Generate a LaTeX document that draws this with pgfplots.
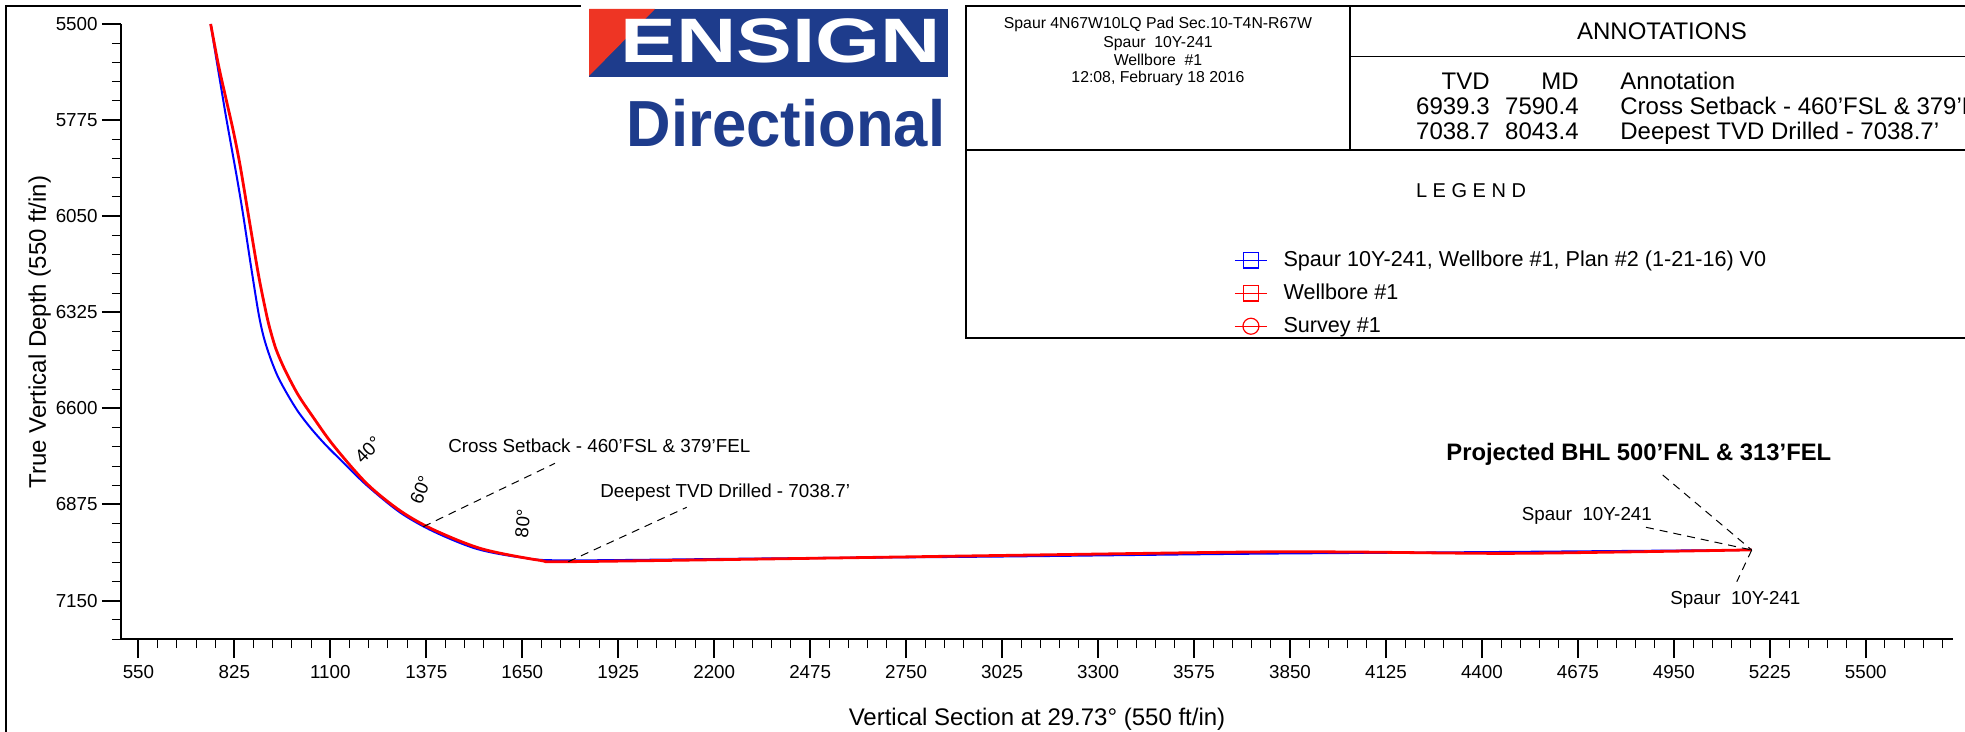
\documentclass[border=0pt]{standalone}
\usepackage{fontspec}
\setmainfont{Liberation Sans}
\usepackage{graphicx}
\usepackage{pgfplots}
\pgfplotsset{compat=1.18}
\usepackage{pgfplotstable}

\definecolor{ensblue}{RGB}{30,60,140}
\definecolor{ensred}{RGB}{238,53,36}

% plan #2 (blue) and wellbore #1 (red): vertical section vs TVD
\pgfplotstableread{
vs tvd
757 5500
770 5580
784 5664
800 5760
817 5855
834 5950
850 6046
872 6190
894 6327
909 6396
927 6453
949 6508
977 6560
1008 6610
1045 6658
1085 6703
1130 6748
1204 6820
1300 6898
1395 6952
1519 7002
1650 7027
1777 7035
2400 7029
3019 7024
3736 7016
4452 7011
5173 7005
}\plantable

\pgfplotstableread{
vs tvd
757 5500
779 5616
800 5710
822 5807
841 5903
865 6046
894 6218
916 6327
927 6373
944 6430
967 6484
994 6537
1013 6570
1047 6620
1108 6705
1204 6815
1300 6893
1395 6947
1534 7002
1701 7035
1782 7038.7
2417 7030
3019 7021
3736 7011
4022 7011
4452 7015
4800 7011
5173 7005
}\welltable

% pixel coordinates of the reference, origin at the axis corner
\tikzset{px/.style={x=0.5pt,y=-0.5pt,shift={(-121,-639)}}}
\newcommand{\fs}[1]{\fontsize{#1}{#1}\selectfont}

\begin{document}
\begin{tikzpicture}
\path[px, use as bounding box] (0,0) rectangle (1965,732);

\begin{axis}[
  at={(0,0)}, anchor=south west,
  scale only axis, width=916pt, height=307.5pt,
  xmin=500, xmax=5750, ymin=5500, ymax=7260,
  y dir=reverse,
  axis lines=left,
  axis line style={-, line width=1pt, black},
  xtick={550,825,...,5500},
  ytick={5500,5775,...,7150},
  minor xtick={550,605,...,5720},
  minor ytick={5500,5555,...,7260},
  tick align=outside,
  major tick length=9.5pt, minor tick length=4.5pt,
  every major tick/.append style={line width=1pt, black},
  every minor tick/.append style={line width=0.5pt, black},
  /pgf/number format/assume math mode=true,
  /pgf/number format/1000 sep={},
  tick label style={font=\fs{9.4}},
  xticklabel style={inner sep=0pt, yshift=-3.5pt},
  yticklabel style={inner sep=0pt, xshift=-2pt},
  clip=false,
  legend cell align=left,
  legend image code/.code={
    \draw[mark repeat=2,mark phase=2,#1] plot coordinates {(0pt,0pt) (8pt,0pt) (16pt,0pt)};},
  legend style={at={(axis description cs:0.6075,0.5623)}, anchor=west,
    draw=none, fill=none, inner sep=0pt, font=\fs{10.8},
    row sep=7.2pt, nodes={inner sep=0pt},
    /tikz/every odd column/.style={column sep=8pt}},
]
\addplot[blue, line width=1pt, smooth, forget plot] table[x=vs, y=tvd] {\plantable};
\addplot[red, line width=1.4pt, smooth, forget plot] table[x=vs, y=tvd] {\welltable};

\addlegendimage{blue, line width=0.6pt, mark=square, mark size=3.8pt, mark options={solid}}
\addlegendentry{Spaur 10Y-241, Wellbore \#1, Plan \#2 (1-21-16) V0}
\addlegendimage{red, line width=0.6pt, mark=square, mark size=3.8pt, mark options={solid}}
\addlegendentry{Wellbore \#1}
\addlegendimage{red, line width=0.6pt, mark=o, mark size=4pt, mark options={solid}}
\addlegendentry{Survey \#1}
\end{axis}

\begin{scope}[px]
  % frame
  \draw[line width=1pt] (6,732) -- (6,6) -- (581,6);
  % header box
  \draw[line width=1pt] (1965,6) -- (966,6) -- (966,338) -- (1965,338);
  \draw[line width=1pt] (966,150) -- (1965,150);
  \draw[line width=1pt] (1350,6) -- (1350,150);
  \draw[line width=0.8pt] (1350,56.7) -- (1965,56.7);

  % logo
  \fill[ensblue] (589,9) rectangle (948,77);
  \fill[ensred] (589,9) -- (655,9) -- (589,76) -- cycle;
  \node[white, font=\bfseries\fs{31.4}, inner sep=0pt, anchor=base] at (781,63)
    {\scalebox{1.33}[1]{ENSIGN}};
  \node[ensblue, font=\bfseries\fs{32.6}, inner sep=0pt, anchor=base] at (786,146.7)
    {\scalebox{0.945}[1]{Directional}};

  % well info
  \begin{scope}[every node/.style={font=\fs{7.9}, inner sep=0pt, anchor=base}]
    \node at (1158,28.8) {Spaur 4N67W10LQ Pad Sec.10-T4N-R67W};
    \node at (1158,47.2) {Spaur~\ 10Y-241};
    \node at (1158,65.5) {Wellbore~\ \#1};
    \node at (1158,82.8) {12:08, February 18 2016};
  \end{scope}

  % annotations table
  \begin{scope}[every node/.style={font=\fs{12}, inner sep=0pt}]
    \node[anchor=base] at (1662,39.2) {ANNOTATIONS};
    \node[anchor=base east] at (1490,89.5) {TVD};
    \node[anchor=base east] at (1579,89.5) {MD};
    \node[anchor=base west] at (1620,89.5) {Annotation};
    \node[anchor=base east] at (1490,114.5) {6939.3};
    \node[anchor=base east] at (1579,114.5) {7590.4};
    \node[anchor=base west] at (1620,114.5) {Cross Setback - 460'FSL \& 379'FEL};
    \node[anchor=base east] at (1490,140) {7038.7};
    \node[anchor=base east] at (1579,140) {8043.4};
    \node[anchor=base west] at (1620,140) {Deepest TVD Drilled - 7038.7'};
  \end{scope}
  \node[font=\fs{10}, inner sep=0pt, anchor=base] at (1471,197.9) {L E G E N D};

  % axis titles
  \node[font=\fs{12}, inner sep=0pt, anchor=base] at (1037,726)
    {Vertical Section at 29.73° (550 ft/in)};
  \node[font=\fs{12}, inner sep=0pt, anchor=base, rotate=90] at (46,332)
    {True Vertical Depth (550 ft/in)};

  % inclination marks
  \node[font=\fs{9.4}, rotate=45] at (368,450) {40°};
  \node[font=\fs{9.4}, rotate=68] at (420.7,490) {60°};
  \node[font=\fs{9.4}, rotate=85] at (522.7,523.3) {80°};

  % callouts
  \begin{scope}[dash pattern=on 4pt off 3pt, line width=0.5pt]
    \draw (423.3,526.7) -- (555,463.3);
    \draw (568.3,561.7) -- (686.7,507.3);
    \draw (1662.7,475) -- (1751.7,550);
    \draw (1646,527.3) -- (1751.7,550);
    \draw (1751.7,550) -- (1736.8,581.7);
  \end{scope}
  \begin{scope}[every node/.style={font=\fs{9.4}, inner sep=0pt, anchor=base west}]
    \node at (448,453) {Cross Setback - 460'FSL \& 379'FEL};
    \node at (600,497.5) {Deepest TVD Drilled - 7038.7'};
    \node at (1521.5,520.7) {Spaur~\ 10Y-241};
    \node at (1670,605) {Spaur~\ 10Y-241};
  \end{scope}
  \node[font=\bfseries\fs{11.9}, inner sep=0pt, anchor=base west] at (1446,460.7)
    {Projected BHL 500'FNL \& 313'FEL};
\end{scope}
\end{tikzpicture}
\end{document}
